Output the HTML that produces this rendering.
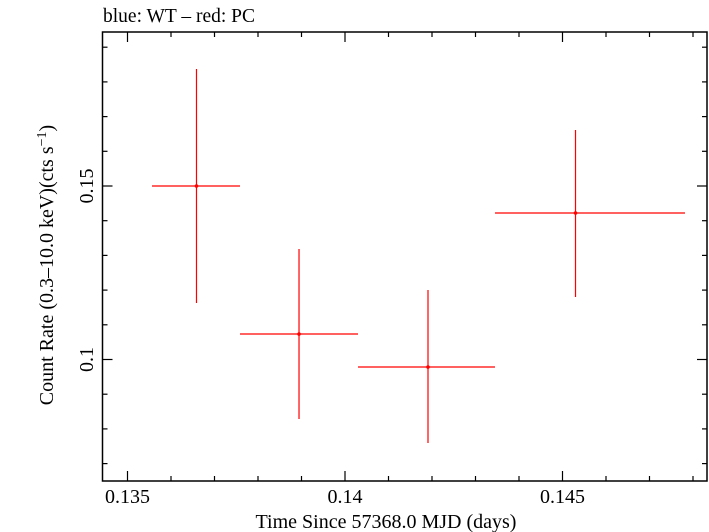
<!DOCTYPE html>
<html><head><meta charset="utf-8"><style>body{margin:0;background:#fff}svg{display:block;font-family:"Liberation Serif",serif}</style></head>
<body>
<svg id="c" width="709" height="532">
<text x="103" y="22" font-size="19.5">blue: WT – red: PC</text>
<rect x="102.5" y="32" width="604.5" height="449" fill="none" stroke="#000" stroke-width="1.5"/>
<g id="ticks"></g>
<g id="marks"></g>
<text x="386" y="528" font-size="20" text-anchor="middle">Time Since 57368.0 MJD (days)</text>
<text transform="translate(53,265) rotate(-90)" font-size="20" text-anchor="middle">Count Rate (0.3–10.0 keV)(cts s<tspan dy="-7" font-size="14">−1</tspan><tspan dy="7">)</tspan></text>
</svg>
<script>
const times=[0.136586,0.138943,0.141908,0.145299];
const tLo=[0.135563,0.137586,0.140299,0.143448];
const tHi=[0.137586,0.140299,0.143448,0.147816];
const rates=[0.15,0.10735,0.09784,0.14222];
const rLo=[0.11628,0.08285,0.07594,0.11801];
const rHi=[0.18372,0.13184,0.12003,0.16614];
const xTickLabels=["0.135","0.14","0.145"];
const yTickLabels=["0.1","0.15"];
const NS="http://www.w3.org/2000/svg";
const X=t=>127.5+(t-0.135)*43500;
const Y=v=>359.5-(v-0.1)*3470;
function mk(tag,attrs,parent){const e=document.createElementNS(NS,tag);for(const k in attrs)e.setAttribute(k,attrs[k]);parent.appendChild(e);return e;}
const tk=document.getElementById('ticks'),mg=document.getElementById('marks');
for(let i=0;i<=13;i++){const t=0.135+i*0.001;const x=X(t);if(x>706)break;const major=i%5===0;const L=major?10:5;
 let l=mk('line',{x1:x,x2:x,y1:481,y2:481-L,stroke:'#000','stroke-width':1.2},tk);
 
 
 l=mk('line',{x1:x,x2:x,y1:32,y2:32+L,stroke:'#000','stroke-width':1.2},tk);
 
 }
xTickLabels.forEach(s=>{const e=mk('text',{x:X(parseFloat(s)),y:503,'font-size':20,'text-anchor':'middle'},tk);e.textContent=s;
 
 });
for(let i=0;i<=13;i++){const v=0.07+i*0.01;const y=Y(v);if(y<33||y>480)continue;const major=Math.abs(v-0.1)<1e-9||Math.abs(v-0.15)<1e-9;const L=major?10:5;
 let l=mk('line',{x1:102.5,x2:102.5+L,y1:y,y2:y,stroke:'#000','stroke-width':1.2},tk);
 
 
 l=mk('line',{x1:707,x2:707-L,y1:y,y2:y,stroke:'#000','stroke-width':1.2},tk);
 
 }
yTickLabels.forEach(s=>{const y=Y(parseFloat(s));const e=mk('text',{transform:`translate(93,${y}) rotate(-90)`,'font-size':20,'text-anchor':'middle'},tk);e.textContent=s;
 
 });
times.forEach((t,i)=>{const g=mk('g',{stroke:'#f00','stroke-width':1.2},mg);
 
 
 mk('line',{x1:X(tLo[i]),x2:X(tHi[i]),y1:Y(rates[i]),y2:Y(rates[i])},g);
 mk('line',{x1:X(t),x2:X(t),y1:Y(rLo[i]),y2:Y(rHi[i])},g);
 mk('circle',{cx:X(t),cy:Y(rates[i]),r:1.8,fill:'#f00',stroke:'none'},g);});
</script>
</body></html>
